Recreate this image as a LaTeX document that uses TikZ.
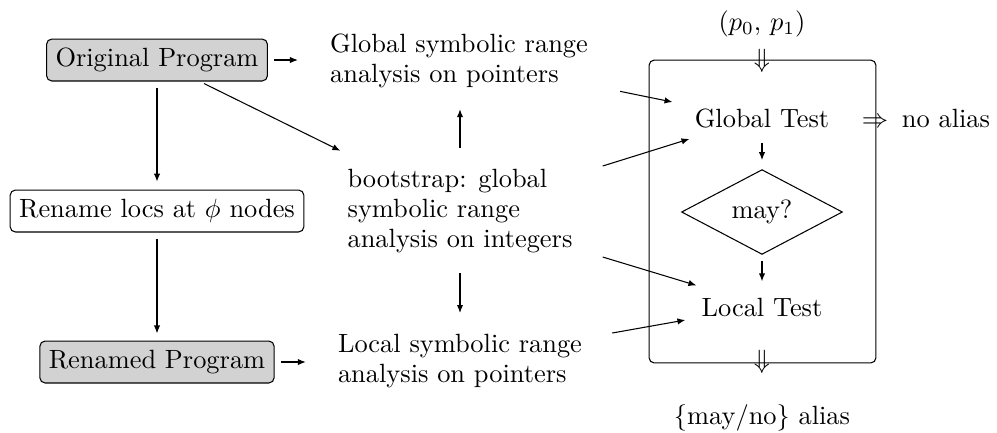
\documentclass[tikz,border=0pt]{standalone}
\usetikzlibrary{arrows.meta,shapes.geometric,calc}
\begin{document}
\begin{tikzpicture}[x=0.379pt,y=-0.379pt, font=\fontsize{10}{11.4}\selectfont,
  arr/.style={-{Latex[length=3pt,width=2.4pt]}},
  prog/.style={draw, rounded corners=2pt, fill=gray!35, inner xsep=3.4pt, minimum height=15.9pt},
  stepbox/.style={draw, rounded corners=2pt, fill=white, inner xsep=3.4pt, minimum height=15.9pt},
  txt/.style={align=left, inner sep=3.33pt}]
\useasboundingbox (0,0) rectangle (997,432);
\node[prog] (orig) at (157,60) {Original Program};
\node[stepbox] (ren) at (157,211) {Rename locs at $\phi$ nodes};
\node[prog] (renp) at (157,362) {Renamed Program};
\node[txt] (gsr) at (459,61) {Global symbolic range\\analysis on pointers};
\node[txt] (boot) at (460,211) {bootstrap: global\\symbolic range\\analysis on integers};
\node[txt] (lsr) at (460,361) {Local symbolic range\\analysis on pointers};
\node[draw, rounded corners=2pt, minimum width=86pt, minimum height=114.8pt] (frame) at (762.5,211.5) {};
\node (pp) at (762,24) {$(p_0,\,p_1)$};
\node (din) at (762,61) {$\Downarrow$};
\node (gt) at (762,118) {Global Test};
\node (imp) at (875,123) {$\Rightarrow$};
\node (noal) at (946,118) {no alias};
\node[diamond, draw, minimum width=61pt, minimum height=30.3pt, inner sep=0pt] (may) at (762,212) {may?};
\node (lt) at (762,307) {Local Test};
\node (dout) at (762,362) {$\Downarrow$};
\node (res) at (762,418) {$\{$may/no$\}$ alias};
\draw[arr, shorten <=2.3pt, shorten >=8.7pt] (orig.east) -- (orig.east -| gsr.west);
\draw[arr, shorten <=2.3pt, shorten >=8.7pt] (renp.east) -- (renp.east -| lsr.west);
\draw[arr, shorten <=2.3pt, shorten >=3pt] (orig) -- (ren);
\draw[arr, shorten <=2.3pt, shorten >=2.7pt] (ren) -- (renp);
\draw[arr] ($(orig.south)+(47,2)$) -- ($(boot.north west)+(2,-9)$);
\draw[arr, shorten <=4.5pt, shorten >=4.5pt] (boot.north) -- (boot.north |- gsr.south);
\draw[arr, shorten <=4pt, shorten >=4.5pt] (boot.south) -- (boot.south |- lsr.north);
\draw[arr] ($(gsr.south east)+(23,-6)$) -- ($(gt.west)+(-13,-16)$);
\draw[arr] ($(boot.east)+(21,-45)$) -- ($(gt.south west)+(4,2)$);
\draw[arr] ($(boot.east)+(21,46)$) -- ($(lt.north west)+(4,-3)$);
\draw[arr] ($(lsr.east)+(21,-28)$) -- ($(lt.west)+(-7,13)$);
\draw[arr, shorten <=2.3pt, shorten >=3.4pt] (gt) -- (may);
\draw[arr, shorten <=2.3pt, shorten >=2.7pt] (may) -- (lt);
\end{tikzpicture}
\end{document}
